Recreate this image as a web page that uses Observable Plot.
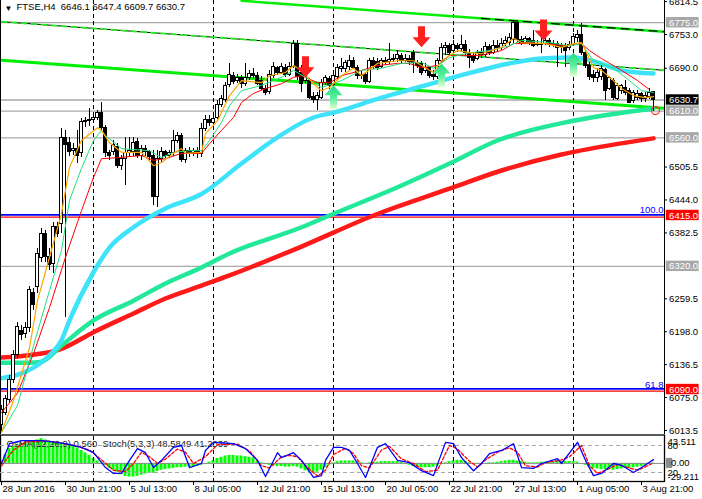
<!DOCTYPE html>
<html><head><meta charset="utf-8">
<script src="https://cdn.jsdelivr.net/npm/d3@7"></script>
<script src="https://cdn.jsdelivr.net/npm/@observablehq/plot@0.6"></script>
<style>
html,body{margin:0;padding:0;background:#fff;}
#chart{position:relative;width:702px;height:499px;overflow:hidden;background:#fff;}
#chart svg{position:absolute;left:0;}
</style></head><body><div id="chart"></div>
<script>
// ---------- DATA ----------
const symbolName = "FTSE,H4";
// H4 candles [open, high, low, close], bar 0 = 28 Jun 2016
const ohlc = [
[6023,6060,6010,6051],[6047,6079,6041,6073],[6070,6116,6064,6107],[6107,6163,6101,6154],[6154,6215,6148,6206],
[6200,6210,6182,6191],[6193,6215,6185,6204],[6204,6282,6197,6275],[6271,6279,6238,6247],[6282,6353,6270,6344],
[6335,6391,6327,6381],[6381,6387,6327,6337],[6337,6353,6312,6322],[6325,6402,6307,6393],[6393,6402,6374,6381],
[6400,6577,6381,6559],[6559,6574,6225,6546],[6551,6561,6525,6533],[6536,6549,6527,6540],[6540,6574,6512,6527],
[6531,6596,6523,6589],[6589,6598,6579,6592],[6591,6615,6581,6594],[6594,6607,6589,6598],[6598,6611,6592,6606],
[6606,6626,6574,6579],[6579,6583,6523,6531],[6531,6536,6518,6527],[6533,6555,6527,6546],[6542,6549,6503,6508],
[6507,6527,6499,6521],[6521,6561,6471,6531],[6531,6561,6523,6536],[6533,6561,6525,6551],[6553,6559,6521,6527],
[6527,6546,6518,6540],[6540,6546,6523,6533],[6533,6536,6518,6525],[6527,6536,6434,6449],[6449,6536,6430,6521],
[6521,6542,6512,6533],[6533,6536,6521,6527],[6527,6536,6521,6531],[6531,6574,6525,6555],[6555,6570,6549,6563],
[6563,6568,6514,6518],[6518,6540,6512,6536],[6536,6542,6523,6531],[6531,6540,6525,6535],[6535,6542,6521,6529],
[6529,6587,6523,6576],[6576,6602,6572,6594],[6594,6602,6581,6587],[6587,6605,6583,6596],[6598,6630,6594,6622],
[6622,6639,6617,6633],[6630,6663,6626,6656],[6658,6699,6654,6678],[6675,6682,6660,6665],[6667,6678,6661,6671],
[6671,6676,6652,6660],[6661,6699,6656,6671],[6671,6686,6667,6680],[6680,6690,6671,6676],[6676,6682,6658,6661],
[6667,6675,6648,6652],[6652,6658,6639,6643],[6645,6686,6641,6678],[6675,6701,6671,6693],[6690,6693,6676,6682],
[6682,6699,6678,6693],[6691,6697,6673,6678],[6678,6701,6675,6693],[6693,6742,6690,6736],[6736,6742,6667,6673],
[6682,6695,6645,6661],[6667,6682,6661,6676],[6667,6671,6632,6635],[6637,6645,6624,6630],[6630,6645,6611,6639],
[6635,6669,6632,6663],[6663,6676,6658,6671],[6669,6675,6650,6656],[6658,6682,6654,6675],[6673,6697,6669,6690],
[6688,6708,6682,6693],[6688,6704,6682,6699],[6693,6714,6686,6704],[6704,6710,6688,6691],[6691,6695,6669,6675],
[6675,6684,6669,6678],[6678,6682,6660,6665],[6665,6708,6661,6703],[6703,6710,6688,6695],[6701,6708,6686,6691],
[6693,6708,6690,6703],[6703,6710,6695,6701],[6701,6736,6697,6706],[6706,6716,6701,6708],[6708,6723,6701,6714],
[6712,6718,6697,6704],[6704,6716,6701,6708],[6708,6714,6695,6701],[6718,6723,6680,6699],[6699,6704,6690,6695],
[6697,6703,6676,6682],[6684,6699,6680,6691],[6690,6693,6671,6676],[6678,6686,6667,6673],[6673,6708,6669,6703],
[6704,6736,6701,6727],[6727,6738,6714,6731],[6731,6736,6712,6719],[6723,6742,6719,6734],[6732,6736,6719,6725],
[6725,6751,6721,6734],[6734,6742,6714,6719],[6719,6725,6690,6710],[6712,6719,6699,6704],[6708,6723,6704,6718],
[6718,6727,6708,6714],[6714,6738,6710,6729],[6729,6734,6714,6719],[6719,6742,6716,6732],[6732,6742,6719,6727],
[6727,6746,6723,6736],[6736,6749,6731,6740],[6738,6755,6732,6747],[6742,6779,6736,6774],[6774,6779,6738,6742],
[6742,6749,6732,6738],[6738,6749,6734,6744],[6744,6747,6732,6738],[6740,6760,6729,6732],[6734,6742,6731,6736],
[6736,6746,6718,6734],[6736,6746,6732,6740],[6740,6746,6729,6734],[6734,6742,6729,6736],[6736,6740,6691,6727],
[6729,6736,6718,6732],[6732,6736,6691,6723],[6727,6740,6723,6734],[6734,6755,6731,6749],[6746,6760,6738,6753],
[6753,6774,6714,6718],[6718,6723,6690,6695],[6695,6701,6667,6673],[6678,6686,6663,6671],[6671,6690,6663,6682],
[6673,6695,6667,6688],[6686,6690,6630,6648],[6652,6675,6648,6671],[6667,6671,6630,6635],[6633,6661,6630,6656],
[6647,6660,6641,6656],[6654,6667,6639,6643],[6647,6652,6624,6626],[6628,6648,6624,6643],[6635,6648,6630,6641],
[6641,6645,6626,6633],[6632,6645,6626,6639],[6637,6652,6632,6643],[6646.1,6647.4,6609.7,6630.7]
];
// moving averages [bar, price]
const maSlowRed = [[0,6150],[7,6154],[15,6166],[23,6197],[33,6232],[41,6260],[50,6284],[57,6303],[75,6357],[93,6415],[112,6465],[125,6499],[140,6529],[152,6546],[163,6559]];
const maSlowGreen = [[0,6140],[7,6140],[10,6142],[15,6172],[23,6219],[33,6256],[41,6288],[50,6318],[57,6344],[75,6393],[82,6415],[100,6471],[112,6512],[124,6555],[143,6592],[163,6615]];
const maMidCyan = [[0,6111],[5,6120],[10,6141],[12,6154],[15,6182],[17,6219],[23,6309],[27,6355],[33,6393],[41,6428],[50,6455],[60,6512],[69,6561],[78,6598],[83,6607],[95,6635],[105,6656],[113,6673],[127,6699],[135,6708],[143,6710],[149,6701],[155,6686],[163,6680]];
const maFastOrange = [[0,6010],[3,6070],[7,6168],[9,6256],[12,6337],[15,6419],[17,6505],[20,6555],[24,6579],[25,6574],[27,6551],[30,6533],[35,6533],[38,6508],[40,6514],[43,6531],[45,6540],[46,6531],[50,6533],[51,6568],[54,6592],[57,6639],[60,6667],[65,6663],[67,6676],[71,6682],[73,6695],[75,6686],[78,6661],[80,6648],[82,6654],[85,6676],[88,6690],[90,6676],[94,6699],[99,6704],[103,6704],[105,6695],[108,6682],[110,6704],[114,6723],[117,6719],[120,6717],[125,6729],[128,6746],[130,6738],[136,6736],[140,6729],[143,6736],[145,6738],[146,6723],[148,6691],[150,6686],[153,6667],[155,6652],[158,6639],[161,6635],[163,6637]];
const maFastGreen = [[0,6010],[4,6060],[8,6172],[12,6275],[15,6350],[17,6443],[20,6503],[23,6555],[25,6574],[26,6564],[30,6540],[37,6536],[40,6523],[43,6533],[47,6536],[50,6536],[52,6555],[55,6589],[57,6620],[60,6648],[65,6658],[70,6673],[73,6686],[76,6673],[80,6654],[85,6667],[90,6686],[95,6690],[100,6699],[105,6701],[108,6690],[112,6710],[117,6719],[122,6723],[127,6732],[130,6742],[137,6738],[142,6732],[145,6736],[148,6704],[153,6690],[157,6667],[160,6648],[163,6645]];
const maFastRed = [[0,6047],[4,6083],[8,6157],[12,6243],[16,6337],[20,6424],[23,6486],[25,6521],[29,6523],[35,6527],[38,6518],[41,6521],[45,6531],[50,6531],[52,6549],[55,6574],[58,6598],[60,6626],[63,6643],[66,6652],[70,6661],[73,6673],[75,6676],[79,6663],[82,6663],[85,6676],[90,6686],[94,6695],[99,6699],[102,6699],[105,6691],[109,6695],[112,6714],[116,6714],[120,6714],[125,6723],[128,6736],[136,6736],[141,6732],[145,6736],[147,6723],[150,6708],[155,6686],[159,6667],[162,6650]];
// trend channel lines [bar, price]
const trendUpper = [[60,6816],[166,6758]];
const trendUpperDash = [[120,6783],[166,6758]];
const trendMiddle = [[0,6777],[166,6686]];
const trendLower = [[0,6705],[166,6615]];
// horizontal levels
const grayLevels = [6775.0, 6610.0, 6560.0, 6320.0];
const bidPrice = 6630.7;
const fiboLevels = [6415.0, 6090.0, 5989.6];
const fiboNames = ["100.0", "61.8", "50.0"];
const redBoxLevels = [6415.0, 6090.0];
const axisTicks = [6814.5, 6753.0, 6690.0, 6505.5, 6444.0, 6382.5, 6259.5, 6198.0, 6136.5, 6075.0, 6013.5];
// signal arrows [bar, price at tip]
const sellArrows = [[76,6673],[105,6729],[135.5,6742]];
const buyArrows = [[83,6658],[110,6699],[143,6719]];
const markCircle = [[163.5,6611]];
// weekly separators (bar index)
const weekStarts = [23, 53, 83, 113, 143];
// time axis
const timeTickIdx = [0, 16, 32, 48, 64, 80, 96, 112, 128, 144, 160];
const timeTickLabels = ["28 Jun 2016","30 Jun 21:00","5 Jul 13:00","8 Jul 05:00","12 Jul 21:00","15 Jul 13:00","20 Jul 05:00","22 Jul 21:00","27 Jul 13:00","1 Aug 05:00","3 Aug 21:00"];
// OsMA(12,26,9) histogram, one value per bar
const osma = [
4,14,24,28,30,32,33,34,36,38, 40,38,36,35,34,33,31,30,28,25,
21,17,13,8,4,1,-3,-8,-11,-14, -18,-21,-22,-22,-21,-19,-17,-16,-16,-13,
-11,-10,-9,-8,-7,-7,-6,-6,-5,-5, -3,-1,2,5,8,10,12,13,13,12,
12,11,10,9,3,1,-2,-3,-4,-5, -5,-6,-6,-5,-6,-9,-12,-14,-15,-14,
-11,-7,-3,1,3,4,4,4,4,3, 1,0,1,2,2,3,3,3,3,3,
2,0,-3,-5,-6,-7,-7,-7,-6,-4, -1,1,3,4,5,5,3,1,-1,-1,
-1,0,1,1,2,3,4,5,5,4, 3,2,1,1,1,2,2,2,2,3,
3,3,3,3,2,0,-3,-6,-8,-9, -10,-10,-10,-11,-10,-9,-8,-8,-7,-6,
-5,-3,-1,0.56
];
const osmaRange = [-29.211, 43.511];
// Stochastic(5,3,3) [bar, value]
const stochMain = [[0,40],[2,84],[5,91],[10,91],[12,89],[16,84],[20,76],[23,64],[26,31],[28,18],[30,18],[32,47],[34,73],[36,64],[38,31],[40,47],[43,76],[45,80],[47,31],[50,40],[51,69],[53,87],[58,84],[61,73],[64,47],[66,11],[69,64],[70,53],[73,64],[75,47],[78,9],[80,13],[81,47],[83,76],[85,76],[87,69],[89,40],[91,9],[94,76],[96,84],[99,47],[102,42],[105,24],[108,13],[111,87],[113,84],[115,53],[118,24],[120,40],[122,62],[125,69],[128,84],[130,31],[133,29],[135,40],[139,51],[140,40],[144,87],[146,47],[148,13],[150,18],[153,40],[155,36],[158,20],[160,31],[163,48.5849]];
const stochSignal = [[0,35],[3,70],[6,88],[11,90],[14,87],[18,80],[22,70],[25,48],[28,25],[31,22],[33,40],[35,65],[37,55],[39,40],[41,50],[44,72],[46,65],[48,40],[51,55],[54,82],[59,83],[62,68],[65,35],[67,30],[70,55],[72,58],[74,55],[76,35],[79,12],[81,25],[83,60],[86,74],[88,62],[90,35],[92,30],[95,70],[97,78],[100,50],[103,40],[106,22],[109,25],[112,80],[114,72],[117,45],[119,32],[121,48],[124,65],[127,75],[129,65],[131,35],[134,32],[136,42],[140,48],[142,55],[145,80],[147,35],[149,18],[151,25],[154,38],[157,30],[159,25],[161,33],[163,41.2039]];
const stochLevels = [80, 20];
const osmaLast = "0.560", stochLast = "48.5849", signalLast = "41.2039";

// ---------- DRAWING ----------
const FONT = "'Liberation Sans', Arial, sans-serif";
const FS = "9.5px";
const X = {domain: [-0.25, 165.75], axis: null};
const YMAIN = [6006, 6816.5];
const unitPerPx = (YMAIN[1] - YMAIN[0]) / 434;
const boxHalf = 5.2 * unitPerPx;
const pts = a => a.map(([i, p]) => ({i, p}));
const bars = ohlc.map(([o, h, l, c], i) => ({i, o, h, l, c}));
const last = bars[bars.length - 1];
const headerText = `${symbolName}  ${last.o.toFixed(1)} ${last.h.toFixed(1)} ${last.l.toFixed(1)} ${last.c.toFixed(1)}`;
const bodyTop = d => Math.abs(d.c - d.o) < 1 ? d.o + 1 : d.c;

const arrowDown = {draw(ctx) { ctx.moveTo(-3.5, -21); ctx.lineTo(3.5, -21); ctx.lineTo(3.5, -10); ctx.lineTo(9, -10); ctx.lineTo(0, 0); ctx.lineTo(-9, -10); ctx.lineTo(-3.5, -10); ctx.closePath(); }};
const arrowUp = {draw(ctx) { ctx.moveTo(-3.5, 24); ctx.lineTo(3.5, 24); ctx.lineTo(3.5, 10); ctx.lineTo(9, 10); ctx.lineTo(0, 0); ctx.lineTo(-9, 10); ctx.lineTo(-3.5, 10); ctx.closePath(); }};

const line = (data, stroke, strokeWidth, extra = {}) =>
  Plot.line(pts(data), {x: "i", y: "p", stroke, strokeWidth, clip: true, ...extra});

const boxLabels = (levels, fill, color) => [
  Plot.rect(levels, {x1: () => 166.2, x2: () => 174.4, y1: d => d - boxHalf, y2: d => d + boxHalf, fill}),
  Plot.text(levels, {x: () => 166.9, y: d => d, text: d => d.toFixed(1), textAnchor: "start", fill: color})
];

const main = Plot.plot({
  width: 702, height: 435, marginLeft: 0, marginRight: 38, marginTop: 0, marginBottom: 1,
  x: X, y: {domain: YMAIN, axis: null},
  style: {fontFamily: FONT, fontSize: FS, background: "white", color: "black"},
  marks: [
    Plot.ruleY(grayLevels, {stroke: "#a9a9a9", strokeWidth: 1.3}),
    Plot.ruleY([bidPrice], {stroke: "#a9a9a9", strokeWidth: 1.3}),
    Plot.ruleX(weekStarts, {stroke: "#000", strokeDasharray: "4,3"}),
    Plot.ruleY(fiboLevels, {stroke: "#ff0000", strokeWidth: 1.2, dy: 1.6, clip: true}),
    Plot.ruleY(fiboLevels, {stroke: "#0000ff", strokeWidth: 1.6, dy: -0.6, clip: true}),
    line(trendUpper, "#00ee00", 2.5),
    line(trendUpperDash, "#000", 1.2, {strokeDasharray: "8,6"}),
    line(trendMiddle, "#000", 1),
    line(trendMiddle, "#22ee22", 1.8, {strokeDasharray: "5,5"}),
    line(trendLower, "#00ee00", 3),
    line(maSlowRed, "#ff1a1a", 4.5, {curve: "monotone-x"}),
    line(maSlowGreen, "#22e89a", 4.5, {curve: "monotone-x"}),
    line(maMidCyan, "#3ee3fa", 4.5, {curve: "monotone-x"}),
    Plot.ruleX(bars, {x: "i", y1: "l", y2: "h", stroke: "#000", shapeRendering: "crispEdges"}),
    Plot.rect(bars.filter(d => d.c < d.o), {x1: d => d.i - 0.4, x2: d => d.i + 0.4, y1: "o", y2: bodyTop, fill: "#000", stroke: "#000", shapeRendering: "crispEdges"}),
    Plot.rect(bars.filter(d => d.c >= d.o), {x1: d => d.i - 0.4, x2: d => d.i + 0.4, y1: "o", y2: bodyTop, fill: "#fff", stroke: "#000", shapeRendering: "crispEdges"}),
    line(maFastRed, "#ff0000", 1),
    line(maFastGreen, "#20e080", 1),
    line(maFastOrange, "#ffa500", 1.2),
    Plot.dot(pts(sellArrows), {x: "i", y: "p", symbol: arrowDown, r: 6, fill: "#ff2020"}),
    Plot.dot(pts(buyArrows), {x: "i", y: "p", symbol: arrowUp, r: 6, fill: "#33dd88"}),
    Plot.dot(pts(markCircle), {x: "i", y: "p", r: 4, stroke: "#ff3030", fill: "none", strokeWidth: 1.2}),
    Plot.text(fiboLevels, {x: () => 165.5, y: d => d, text: (d, k) => fiboNames[k], textAnchor: "end", lineAnchor: "bottom", dy: -2, fill: "#0000ff"}),
    Plot.ruleX([-0.25, 165.75], {stroke: "#000"}),
    Plot.ruleY(axisTicks, {x1: () => 165.75, x2: () => 166.5, stroke: "#000"}),
    Plot.text(axisTicks, {x: () => 166.9, y: d => d, text: d => d.toFixed(1), textAnchor: "start", fill: "#000"}),
    ...boxLabels(grayLevels, "#a8a8a8", "#fff"),
    ...boxLabels(redBoxLevels, "#ff0000", "#fff"),
    ...boxLabels([bidPrice], "#000", "#fff"),
    Plot.text(["\u25BC"], {text: d => d, frameAnchor: "top-left", dx: 4, dy: 5, lineAnchor: "top", textAnchor: "start", fontSize: 8}),
    Plot.text([headerText], {text: d => d, frameAnchor: "top-left", dx: 16, dy: 3, lineAnchor: "top", textAnchor: "start", fill: "#000"})
  ]
});

const osmaBars = osma.map((v, i) => ({i, v}));
const zeroHalf = 5 * (osmaRange[1] - osmaRange[0]) / 45;
const osmaSvg = Plot.plot({
  width: 702, height: 65, marginLeft: 0, marginRight: 38, marginTop: 2, marginBottom: 18,
  x: X, y: {domain: osmaRange, axis: null},
  style: {fontFamily: FONT, fontSize: FS, background: "white", color: "black"},
  marks: [
    Plot.rect(osmaBars, {x1: d => d.i - 0.375, x2: d => d.i + 0.375, y1: () => 0, y2: "v", fill: "#00ff00"}),
    Plot.ruleY([0], {stroke: "#8c8c8c"}),
    Plot.ruleX(weekStarts, {stroke: "#000", strokeDasharray: "4,3"}),
    Plot.frame({stroke: "#000", strokeWidth: 1.3, insetTop: -1.5}),
    Plot.rect([0], {x1: () => 166.2, x2: () => 167.8, y1: d => d - zeroHalf, y2: d => d + zeroHalf, fill: "#8c8c8c"}),
    Plot.text([0], {x: () => 166.9, y: d => d, text: () => "0.00", textAnchor: "start", dx: 2, fill: "#000"}),
    Plot.text([osmaRange[1]], {x: () => 166.5, y: d => d, text: d => d.toFixed(3), textAnchor: "start", dy: 5, fill: "#000"}),
    Plot.text([osmaRange[0]], {x: () => 166.5, y: d => d, text: d => d.toFixed(3), textAnchor: "start", dy: -5, fill: "#000"})
  ]
});

const indTitle = `OsMA(12,26,9) ${osmaLast}  Stoch(5,3,3) ${stochLast} ${signalLast}`;
const stochSvg = Plot.plot({
  width: 702, height: 65, marginLeft: 0, marginRight: 38, marginTop: 2, marginBottom: 18,
  x: X, y: {domain: [0, 100], axis: null},
  style: {fontFamily: FONT, fontSize: FS, background: "transparent", color: "black"},
  marks: [
    Plot.text([indTitle], {text: d => d, frameAnchor: "top-left", dx: 6, dy: 4, lineAnchor: "top", textAnchor: "start", fill: "#222"}),
    Plot.ruleY(stochLevels, {stroke: "#a8a8a8", strokeDasharray: "4,3"}),
    line(stochSignal, "#ff0000", 1.3, {strokeDasharray: "3,2", clip: false}),
    line(stochMain, "#0000ff", 1.3, {clip: false}),
    Plot.text(stochLevels, {x: () => 166.5, y: d => d, text: d => String(d), textAnchor: "start", fill: "#000"}),
    Plot.ruleX(timeTickIdx, {y1: () => 0, y2: () => -9, stroke: "#000"}),
    Plot.text(timeTickIdx, {x: d => d, text: (d, k) => timeTickLabels[k], frameAnchor: "bottom", dy: 10, dx: 1, textAnchor: "start", fill: "#000"})
  ]
});

const root = document.getElementById("chart");
main.style.top = "0px";
osmaSvg.style.top = "434px";
stochSvg.style.top = "434px";
root.appendChild(main);
root.appendChild(osmaSvg);
root.appendChild(stochSvg);

// gradient fill for the buy arrows
const ns = "http://www.w3.org/2000/svg";
const defs = document.createElementNS(ns, "defs");
defs.innerHTML = '<linearGradient id="gBuy" x1="0" y1="0" x2="0" y2="1"><stop offset="0" stop-color="#1fdc7a"/><stop offset="0.55" stop-color="#5ff0a0"/><stop offset="1" stop-color="#eaffd2"/></linearGradient>';
main.insertBefore(defs, main.firstChild);
main.querySelectorAll('[fill="#33dd88"]').forEach(el => el.setAttribute("fill", "url(#gBuy)"));
</script></body></html>
